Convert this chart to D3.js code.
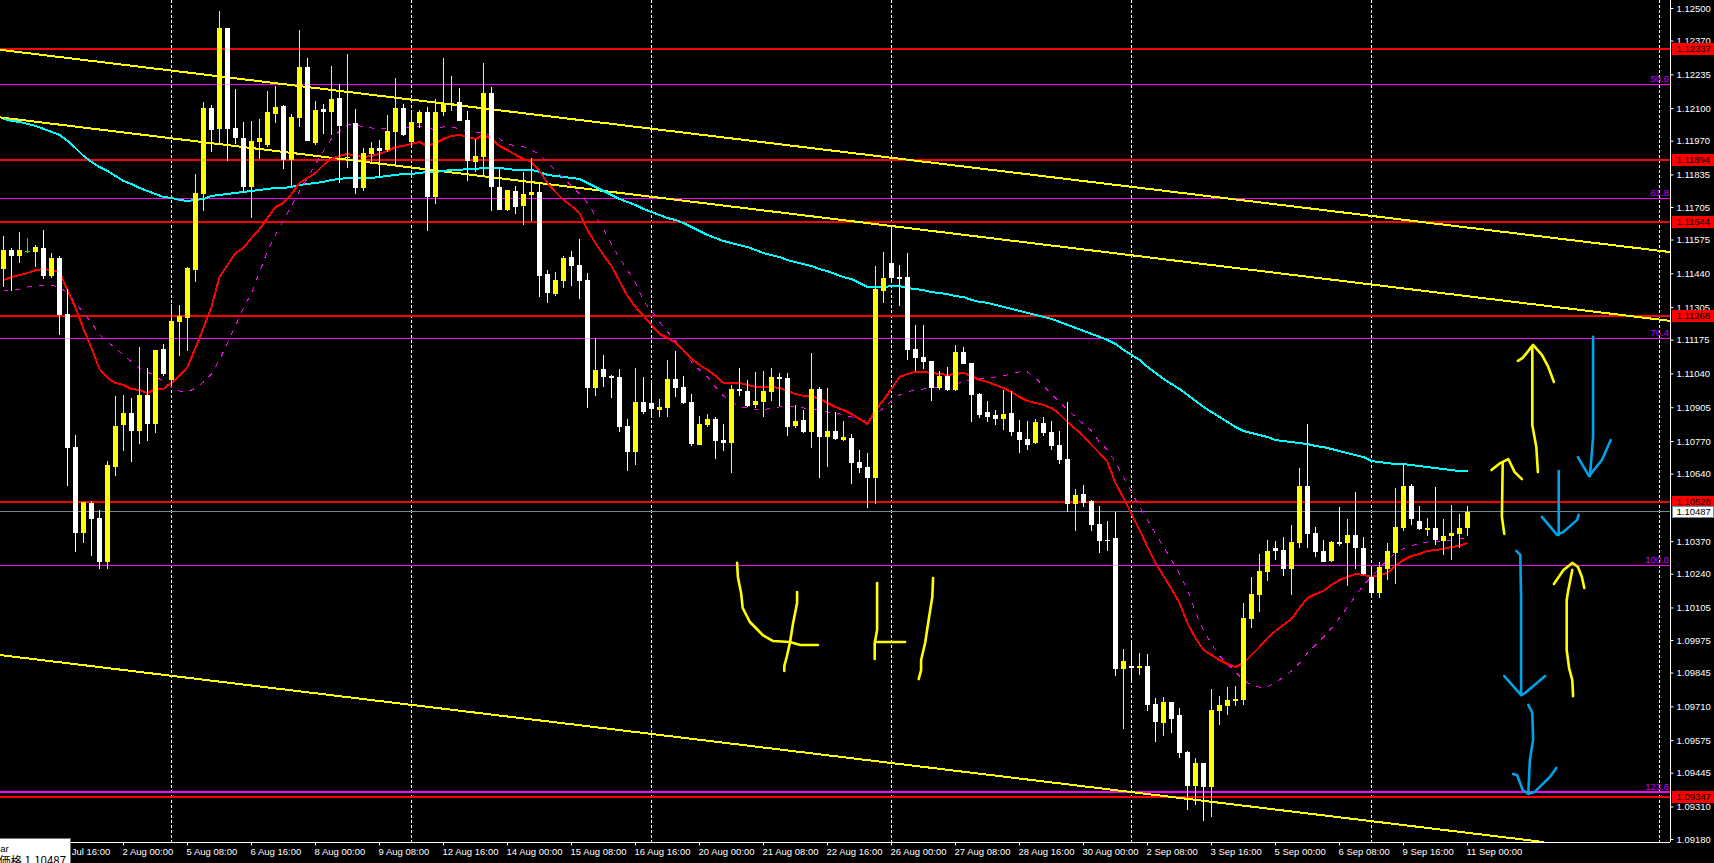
<!DOCTYPE html>
<html>
<head>
<meta charset="utf-8">
<title>EURUSD H4</title>
<script src="https://cdnjs.cloudflare.com/ajax/libs/d3/7.8.5/d3.min.js"></script>
<style>
  html, body { margin: 0; padding: 0; background: #000; overflow: hidden; }
  svg { display: block; }
  text { font-family: "Liberation Sans", Arial, sans-serif; font-size: 9.5px; }
</style>
</head>
<body>
<div id="chart"></div>
<script>
// 4H candles, one entry per bar
var opens = [
  1.11457,1.11533,1.11509,1.11529,1.11525,1.11541,1.11429,1.11501,1.11278,1.10746,1.10403,1.10523,1.10463,1.10287,1.10666,1.10834,
  1.10882,1.10810,1.10954,1.10838,1.11138,1.11014,1.11246,1.11262,1.11453,1.11757,1.12101,1.12017,1.12420,1.12021,1.11981,1.11785,
  1.11965,1.11953,1.12077,1.12109,1.11893,1.12061,1.12264,1.11961,1.12097,1.12085,1.12140,1.11901,1.12041,1.11781,1.11917,1.11941,
  1.11933,1.12005,1.12101,1.11965,1.12041,1.12085,1.11745,1.12085,1.12113,1.12125,1.12053,1.11885,1.11905,1.12160,1.11785,1.11693,
  1.11769,1.11709,1.11753,1.11765,1.11437,1.11357,1.11409,1.11505,1.11473,1.11413,1.10982,1.11058,1.11030,1.11026,1.10830,1.10726,
  1.10926,1.10922,1.10894,1.10902,1.11018,1.10986,1.10926,1.10754,1.10834,1.10858,1.10774,1.10762,1.10978,1.10970,1.10914,1.10926,
  1.10966,1.11026,1.11022,1.10830,1.10854,1.10806,1.10978,1.10786,1.10810,1.10774,1.10782,1.10686,1.10666,1.10622,1.11369,1.11481,
  1.11425,1.11425,1.11138,1.11106,1.11090,1.10982,1.11030,1.10974,1.11126,1.11082,1.10958,1.10886,1.10874,1.10858,1.10882,1.10806,
  1.10778,1.10762,1.10842,1.10806,1.10754,1.10698,1.10519,1.10558,1.10531,1.10439,1.10375,1.10383,1.09859,1.09871,1.09863,1.09871,
  1.09720,1.09644,1.09728,1.09676,1.09528,1.09392,1.09484,1.09388,1.09692,1.09712,1.09732,1.09736,1.10059,1.10155,1.10247,1.10343,
  1.10335,1.10259,1.10363,1.10590,1.10403,1.10331,1.10291,1.10367,1.10363,1.10395,1.10343,1.10227,1.10163,1.10259,1.10323,1.10423,
  1.10590,1.10451,1.10415,1.10423,1.10371,1.10391,1.10399,1.10423
];
var highs = [
  1.11589,1.11541,1.11605,1.11581,1.11553,1.11613,1.11521,1.11509,1.11377,1.10794,1.10527,1.10531,1.10495,1.10690,1.10950,1.10954,
  1.10942,1.11146,1.11062,1.11134,1.11158,1.11318,1.11314,1.11465,1.11837,1.12125,1.12113,1.12488,1.12420,1.12176,1.12045,1.12049,
  1.12057,1.12168,1.12188,1.12113,1.12077,1.12412,1.12300,1.12129,1.12117,1.12268,1.12196,1.12316,1.12097,1.11941,1.11965,1.11973,
  1.12073,1.12220,1.12117,1.12081,1.12093,1.12105,1.12136,1.12300,1.12228,1.12180,1.12089,1.11977,1.12280,1.12184,1.11857,1.11773,
  1.11789,1.11845,1.11901,1.11797,1.11453,1.11445,1.11509,1.11529,1.11577,1.11441,1.11182,1.11114,1.11034,1.11058,1.10858,1.11062,
  1.11026,1.11006,1.10938,1.11094,1.11130,1.11030,1.10958,1.10870,1.10878,1.10866,1.10838,1.10994,1.11062,1.11014,1.11046,1.11050,
  1.11062,1.11042,1.11042,1.10914,1.10894,1.11122,1.10986,1.10982,1.10886,1.10850,1.10798,1.10734,1.10722,1.11469,1.11525,1.11625,
  1.11473,1.11521,1.11234,1.11234,1.11090,1.11050,1.11066,1.11154,1.11146,1.11082,1.10962,1.10930,1.10894,1.10974,1.10970,1.10854,
  1.10850,1.10858,1.10866,1.10850,1.10810,1.10926,1.10578,1.10594,1.10535,1.10511,1.10451,1.10487,1.09939,1.09971,1.09923,1.09919,
  1.09743,1.09747,1.09728,1.09704,1.09532,1.09504,1.09484,1.09779,1.09752,1.09787,1.09791,1.10123,1.10227,1.10319,1.10375,1.10371,
  1.10387,1.10435,1.10662,1.10838,1.10427,1.10375,1.10371,1.10507,1.10459,1.10566,1.10387,1.10263,1.10287,1.10363,1.10582,1.10678,
  1.10598,1.10511,1.10463,1.10586,1.10459,1.10515,1.10479,1.10511
];
var lows = [
  1.11385,1.11369,1.11481,1.11521,1.11465,1.11417,1.11421,1.11194,1.10590,1.10327,1.10363,1.10311,1.10259,1.10259,1.10630,1.10730,
  1.10686,1.10758,1.10770,1.10802,1.11030,1.10990,1.11110,1.11130,1.11405,1.11689,1.11925,1.11961,1.11889,1.11957,1.11761,1.11661,
  1.11897,1.11945,1.12041,1.11857,1.11785,1.12025,1.11969,1.11953,1.11997,1.11993,1.11801,1.11861,1.11757,1.11769,1.11881,1.11821,
  1.11925,1.11869,1.11989,1.11953,1.12021,1.11609,1.11717,1.12069,1.12089,1.12049,1.11809,1.11845,1.11829,1.11689,1.11693,1.11689,
  1.11677,1.11633,1.11649,1.11345,1.11322,1.11349,1.11381,1.11389,1.11337,1.10902,1.10950,1.10986,1.10942,1.10806,1.10650,1.10674,
  1.10878,1.10866,1.10866,1.10866,1.10946,1.10918,1.10750,1.10754,1.10826,1.10698,1.10730,1.10642,1.10950,1.10906,1.10902,1.10866,
  1.10930,1.10910,1.10790,1.10822,1.10802,1.10742,1.10622,1.10666,1.10774,1.10770,1.10598,1.10642,1.10503,1.10519,1.11322,1.11401,
  1.11310,1.11094,1.11050,1.11058,1.10930,1.10974,1.10970,1.10970,1.11078,1.10846,1.10862,1.10846,1.10834,1.10814,1.10790,1.10722,
  1.10734,1.10758,1.10790,1.10734,1.10678,1.10487,1.10411,1.10507,1.10411,1.10323,1.10331,1.09831,1.09620,1.09811,1.09835,1.09692,
  1.09568,1.09592,1.09604,1.09504,1.09296,1.09316,1.09252,1.09268,1.09636,1.09676,1.09712,1.09716,1.10023,1.10087,1.10211,1.10295,
  1.10231,1.10155,1.10343,1.10343,1.10307,1.10287,1.10287,1.10351,1.10191,1.10259,1.10235,1.10143,1.10143,1.10215,1.10199,1.10411,
  1.10435,1.10415,1.10391,1.10355,1.10315,1.10295,1.10343,1.10391
];
var closes = [
  1.11533,1.11509,1.11533,1.11529,1.11545,1.11429,1.11501,1.11274,1.10742,1.10403,1.10527,1.10459,1.10287,1.10674,1.10830,1.10882,
  1.10810,1.10954,1.10838,1.11134,1.11038,1.11250,1.11270,1.11461,1.11761,1.12101,1.12013,1.12420,1.12017,1.11981,1.11785,1.11969,
  1.11981,1.12085,1.12105,1.11893,1.12065,1.12264,1.11969,1.12093,1.12085,1.12136,1.12029,1.11905,1.11781,1.11921,1.11941,1.11929,
  1.12009,1.12101,1.11993,1.12045,1.12085,1.11745,1.12085,1.12117,1.12121,1.12049,1.11889,1.11909,1.12160,1.11785,1.11693,1.11773,
  1.11705,1.11757,1.11765,1.11429,1.11361,1.11413,1.11501,1.11469,1.11409,1.10982,1.11054,1.11026,1.11022,1.10826,1.10726,1.10926,
  1.10886,1.10898,1.10906,1.11018,1.10982,1.10922,1.10758,1.10838,1.10858,1.10770,1.10762,1.10978,1.10970,1.10910,1.10930,1.10970,
  1.11026,1.11018,1.10826,1.10850,1.10806,1.10978,1.10786,1.10810,1.10778,1.10786,1.10682,1.10662,1.10622,1.11377,1.11421,1.11421,
  1.11417,1.11134,1.11102,1.11086,1.10982,1.11030,1.10974,1.11126,1.11078,1.10954,1.10874,1.10866,1.10858,1.10878,1.10806,1.10774,
  1.10754,1.10846,1.10802,1.10750,1.10694,1.10519,1.10554,1.10523,1.10435,1.10371,1.10371,1.09859,1.09891,1.09863,1.09871,1.09716,
  1.09648,1.09728,1.09660,1.09524,1.09392,1.09484,1.09388,1.09696,1.09716,1.09736,1.09739,1.10063,1.10159,1.10251,1.10331,1.10331,
  1.10259,1.10367,1.10590,1.10399,1.10327,1.10287,1.10367,1.10359,1.10395,1.10343,1.10239,1.10163,1.10267,1.10331,1.10427,1.10590,
  1.10459,1.10419,1.10423,1.10375,1.10391,1.10403,1.10423,1.10487
];

// moving averages, same bars
var maFast = [
  1.11413,1.11425,1.11433,1.11441,1.11453,1.11457,1.11453,1.11445,1.11373,1.11302,1.11218,1.11142,1.11058,1.11022,1.11002,1.10994,
  1.10978,1.10974,1.10962,1.10978,1.10978,1.11002,1.11030,1.11066,1.11142,1.11222,1.11306,1.11425,1.11473,1.11521,1.11541,1.11581,
  1.11617,1.11661,1.11705,1.11721,1.11757,1.11801,1.11821,1.11841,1.11873,1.11897,1.11909,1.11917,1.11909,1.11905,1.11909,1.11917,
  1.11929,1.11945,1.11949,1.11957,1.11965,1.11949,1.11961,1.11977,1.11989,1.11993,1.11985,1.11977,1.11993,1.11977,1.11949,1.11933,
  1.11913,1.11897,1.11885,1.11849,1.11801,1.11765,1.11733,1.11709,1.11681,1.11613,1.11561,1.11513,1.11469,1.11409,1.11349,1.11306,
  1.11270,1.11234,1.11198,1.11182,1.11162,1.11134,1.11098,1.11074,1.11054,1.11030,1.11002,1.11002,1.11002,1.10994,1.10986,1.10986,
  1.10986,1.10982,1.10970,1.10958,1.10950,1.10950,1.10938,1.10922,1.10906,1.10894,1.10878,1.10858,1.10838,1.10894,1.10934,1.10978,
  1.11026,1.11038,1.11046,1.11046,1.11042,1.11038,1.11034,1.11038,1.11042,1.11030,1.11014,1.11006,1.10994,1.10982,1.10966,1.10946,
  1.10930,1.10922,1.10914,1.10902,1.10878,1.10846,1.10818,1.10790,1.10754,1.10722,1.10686,1.10602,1.10542,1.10479,1.10415,1.10347,
  1.10283,1.10231,1.10179,1.10123,1.10043,1.09983,1.09935,1.09915,1.09895,1.09879,1.09867,1.09883,1.09915,1.09947,1.09983,1.10011,
  1.10035,1.10059,1.10103,1.10143,1.10159,1.10171,1.10195,1.10215,1.10227,1.10239,1.10235,1.10227,1.10235,1.10243,1.10271,1.10295,
  1.10311,1.10319,1.10331,1.10335,1.10339,1.10347,1.10351,1.10363
];
var maSlow = [
  1.11369,1.11373,1.11377,1.11385,1.11389,1.11393,1.11393,1.11385,1.11361,1.11322,1.11282,1.11242,1.11194,1.11166,1.11142,1.11114,
  1.11086,1.11062,1.11046,1.11030,1.11006,1.10986,1.10970,1.10966,1.10982,1.11006,1.11038,1.11094,1.11162,1.11230,1.11302,1.11361,
  1.11445,1.11529,1.11593,1.11653,1.11709,1.11769,1.11821,1.11877,1.11929,1.11977,1.12009,1.12033,1.12033,1.12025,1.12021,1.12017,
  1.12017,1.12021,1.12021,1.12025,1.12029,1.12021,1.12013,1.12025,1.12025,1.12017,1.12009,1.12005,1.12001,1.11989,1.11977,1.11957,
  1.11949,1.11945,1.11933,1.11913,1.11885,1.11849,1.11821,1.11789,1.11757,1.11721,1.11669,1.11617,1.11557,1.11501,1.11453,1.11401,
  1.11330,1.11290,1.11246,1.11206,1.11170,1.11130,1.11086,1.11054,1.11026,1.10986,1.10950,1.10926,1.10906,1.10902,1.10894,1.10894,
  1.10902,1.10906,1.10906,1.10906,1.10902,1.10898,1.10894,1.10886,1.10882,1.10874,1.10866,1.10858,1.10846,1.10874,1.10902,1.10930,
  1.10954,1.10966,1.10974,1.10978,1.10982,1.10982,1.10986,1.10998,1.11006,1.11014,1.11018,1.11022,1.11026,1.11030,1.11038,1.11046,
  1.11046,1.11022,1.10990,1.10958,1.10926,1.10894,1.10866,1.10838,1.10810,1.10766,1.10734,1.10686,1.10626,1.10566,1.10507,1.10455,
  1.10399,1.10347,1.10295,1.10239,1.10175,1.10087,1.10015,1.09959,1.09911,1.09879,1.09847,1.09815,1.09795,1.09787,1.09787,1.09807,
  1.09827,1.09851,1.09883,1.09923,1.09955,1.09987,1.10023,1.10063,1.10107,1.10151,1.10195,1.10227,1.10263,1.10295,1.10323,1.10339,
  1.10351,1.10363,1.10367,1.10367,1.10371,1.10375,1.10379,1.10383
];
var maLong = [
  1.12057,1.12049,1.12045,1.12037,1.12029,1.12017,1.12005,1.11993,1.11969,1.11941,1.11909,1.11885,1.11865,1.11849,1.11829,1.11809,
  1.11797,1.11781,1.11769,1.11757,1.11745,1.11741,1.11733,1.11729,1.11733,1.11737,1.11749,1.11753,1.11757,1.11761,1.11765,1.11769,
  1.11773,1.11777,1.11781,1.11781,1.11785,1.11793,1.11797,1.11801,1.11805,1.11813,1.11817,1.11821,1.11821,1.11821,1.11821,1.11825,
  1.11829,1.11833,1.11837,1.11837,1.11841,1.11845,1.11845,1.11849,1.11853,1.11853,1.11857,1.11857,1.11861,1.11861,1.11861,1.11857,
  1.11853,1.11853,1.11853,1.11845,1.11833,1.11829,1.11825,1.11821,1.11817,1.11801,1.11785,1.11769,1.11753,1.11737,1.11725,1.11713,
  1.11697,1.11685,1.11673,1.11661,1.11653,1.11641,1.11625,1.11609,1.11593,1.11581,1.11569,1.11561,1.11553,1.11545,1.11533,1.11521,
  1.11513,1.11505,1.11493,1.11485,1.11477,1.11469,1.11457,1.11449,1.11437,1.11425,1.11417,1.11401,1.11385,1.11385,1.11385,1.11389,
  1.11389,1.11381,1.11377,1.11373,1.11365,1.11361,1.11357,1.11349,1.11345,1.11334,1.11326,1.11322,1.11314,1.11306,1.11298,1.11290,
  1.11282,1.11274,1.11266,1.11258,1.11246,1.11234,1.11222,1.11210,1.11198,1.11186,1.11174,1.11158,1.11134,1.11114,1.11094,1.11066,
  1.11042,1.11018,1.10998,1.10978,1.10954,1.10930,1.10906,1.10886,1.10866,1.10846,1.10826,1.10810,1.10802,1.10794,1.10786,1.10774,
  1.10770,1.10766,1.10762,1.10758,1.10750,1.10746,1.10738,1.10730,1.10722,1.10714,1.10706,1.10690,1.10686,1.10682,1.10678,1.10678,
  1.10674,1.10670,1.10666,1.10662,1.10658,1.10654,1.10650,1.10650
];

// axis labels
var priceTicks = [1.125,1.1237,1.12235,1.121,1.1197,1.11835,1.11705,1.11575,1.1144,1.11305,1.11175,1.1104,1.10905,1.1077,1.1064,1.1037,1.1024,1.10105,1.09975,1.09845,1.0971,1.09575,1.09445,1.0931,1.0918];
var timeBars = [7,15,23,31,39,47,55,63,71,79,87,95,103,111,119,127,135,143,151,159,167,175,183];
var timeLabels = ['31 Jul 16:00','2 Aug 00:00','5 Aug 08:00','6 Aug 16:00','8 Aug 00:00','9 Aug 08:00','12 Aug 16:00','14 Aug 00:00','15 Aug 08:00','16 Aug 16:00','20 Aug 00:00','21 Aug 08:00','22 Aug 16:00','26 Aug 00:00','27 Aug 08:00','28 Aug 16:00','30 Aug 00:00','2 Sep 08:00','3 Sep 16:00','5 Sep 00:00','6 Sep 08:00','9 Sep 16:00','11 Sep 00:00'];
var gridBars = [21,51,81,111,141,171,207];

// horizontal levels
var redLevels = [1.12337,1.11894,1.11644,1.11268,1.10528,1.09347];
var fibLevels = [1.12195,1.1174,1.1118,1.10273];
var fibLabels = ['50.0','61.8','76.4','100.0'];
var fibLast = 1.09366;
var fibLastLabel = '123.6';
var lastPrice = 1.10487;

// channel lines, [bar, price]
var channelA = [[-0.44,1.12333],[208.31,1.11525]];
var channelB = [[-0.44,1.12063],[208.31,1.1125]];
var channelC = [[-0.44,1.09915],[192.5,1.09168]];

// hand drawn strokes, [bar, price]
var yellowStrokes = [
  [[91.7,1.10283],[91.8,1.10227],[92.2,1.10163],[92.4,1.10103],[93.3,1.10047],[94.9,1.09995],[96.2,1.09971],[98.3,1.09967],[99.6,1.09955],[101.8,1.09955]],
  [[99.2,1.10167],[99.2,1.10123],[98.7,1.10043],[98.3,1.09963],[97.9,1.09907],[97.6,1.09871],[97.6,1.09851]],
  [[109.2,1.10203],[109.2,1.10015],[108.9,1.09963],[108.9,1.09899]],
  [[109.1,1.09967],[112.7,1.09967]],
  [[116.2,1.10223],[116.1,1.10147],[115.7,1.10067],[115.2,1.09963],[114.7,1.09895],[114.7,1.09855],[114.4,1.09819]],
  [[191.8,1.10646],[191.6,1.10746],[191.1,1.10834],[191.1,1.11146]],
  [[189.3,1.1109],[189.9,1.11102],[191.2,1.11154],[192.3,1.11114],[193.1,1.11066],[193.8,1.11006]],
  [[187.6,1.10399],[187.3,1.10467],[187.4,1.10682]],
  [[186,1.10654],[187.1,1.10682],[188.1,1.10698],[188.9,1.10646],[189.8,1.10618]],
  [[196.2,1.09751],[196.1,1.09815],[195.7,1.09863],[195.4,1.09935],[195.4,1.10135],[195.6,1.10175],[196.1,1.10255]],
  [[193.8,1.10199],[195,1.10255],[196.1,1.10283],[196.8,1.10267],[197.3,1.10227],[197.6,1.10183]]
];
var blueStrokes = [
  [[198.7,1.11186],[198.7,1.10786],[198.3,1.1063]],
  [[196.8,1.10706],[198.2,1.1063],[199.8,1.10694],[200.9,1.10774]],
  [[194.4,1.1065],[194.4,1.10395]],
  [[192.3,1.10467],[194.2,1.10395],[195,1.10407],[196.7,1.10455],[196.9,1.10475]],
  [[189.1,1.10331],[189.6,1.10315],[189.7,1.10135],[189.7,1.09755]],
  [[187.6,1.09831],[189.7,1.09755],[190.2,1.09763],[192.7,1.09831]],
  [[190.6,1.09716],[191.1,1.09684],[191.2,1.09576],[190.8,1.09496],[190.6,1.09364]],
  [[188.7,1.0944],[189.2,1.09436],[189.9,1.09376],[190.6,1.0936],[191.4,1.09368],[193.3,1.09428],[194.1,1.09464]]
];

var svgWidth = 1714;
var svgHeight = 863;
var plotRight = 1670;
var plotBottom = 842;

var svg = d3.select('#chart')
  .append('svg')
  .attr('width', svgWidth)
  .attr('height', svgHeight)
  .style('background', '#000');

var defs = svg.append('defs');
defs.append('clipPath').attr('id', 'plot')
  .append('rect')
  .attr('width', plotRight)
  .attr('height', plotBottom);

var xScale = d3.scaleLinear().domain([0, 207]).range([3.5, 1659.5]);
var yScale = d3.scaleLinear().domain([1.0918, 1.125]).range([839, 8]);

var plot = svg.append('g').attr('clip-path', 'url(#plot)');

// vertical grid
plot.append('g').selectAll('line')
  .data(gridBars)
  .enter()
  .append('line')
  .attr('x1', d => xScale(d))
  .attr('x2', d => xScale(d))
  .attr('y1', 0)
  .attr('y2', plotBottom)
  .attr('stroke', '#fff')
  .attr('stroke-dasharray', '3,2');

function hLines(levels, color, width) {
  plot.append('g').selectAll('line')
    .data(levels)
    .enter()
    .append('line')
    .attr('x1', 0)
    .attr('x2', plotRight)
    .attr('y1', d => yScale(d))
    .attr('y2', d => yScale(d))
    .attr('stroke', color)
    .attr('stroke-width', width)
    .attr('shape-rendering', 'crispEdges');
}

hLines([lastPrice], '#778899', 1);
hLines(fibLevels, '#ff00ff', 1);
hLines([fibLast], '#ff00ff', 2);
hLines(redLevels, '#ff0000', 2);

plot.append('g').selectAll('text')
  .data(fibLevels.concat([fibLast]))
  .enter()
  .append('text')
  .attr('x', 1669)
  .attr('y', d => yScale(d) - 2)
  .attr('text-anchor', 'end')
  .attr('fill', '#c800ff')
  .text((d, i) => i < fibLabels.length ? fibLabels[i] : fibLastLabel);

var pointLine = d3.line().x(d => xScale(d[0])).y(d => yScale(d[1]));

// trend channel
[channelA, channelB, channelC].forEach(function(pts) {
  plot.append('path')
    .attr('d', pointLine(pts))
    .attr('fill', 'none')
    .attr('stroke', '#ffff00')
    .attr('stroke-width', 2)
    .attr('shape-rendering', 'crispEdges');
});

// moving averages
var maLine = d3.line().x((d, i) => xScale(i)).y(d => yScale(d));

plot.append('path')
  .attr('d', maLine(maLong))
  .attr('fill', 'none')
  .attr('stroke', '#00ffff')
  .attr('stroke-width', 2)
  .attr('shape-rendering', 'crispEdges');

plot.append('path')
  .attr('d', maLine(maSlow))
  .attr('fill', 'none')
  .attr('stroke', '#ff00ff')
  .attr('stroke-width', 1)
  .attr('stroke-dasharray', '5,7')
  .attr('shape-rendering', 'crispEdges');

plot.append('path')
  .attr('d', maLine(maFast))
  .attr('fill', 'none')
  .attr('stroke', '#ff0000')
  .attr('stroke-width', 2)
  .attr('shape-rendering', 'crispEdges');

// candles sit on top of the indicators
function candleColor(i) {
  if (closes[i] > opens[i]) return '#ffff00';
  if (closes[i] < opens[i]) return '#ffffff';
  return '#00ff00';
}

var candles = plot.append('g').attr('shape-rendering', 'crispEdges')
  .selectAll('g')
  .data(opens)
  .enter()
  .append('g');

candles.append('line')
  .attr('x1', (d, i) => xScale(i))
  .attr('x2', (d, i) => xScale(i))
  .attr('y1', (d, i) => yScale(highs[i]))
  .attr('y2', (d, i) => yScale(lows[i]))
  .attr('stroke', (d, i) => candleColor(i));

candles.append('rect')
  .attr('x', (d, i) => xScale(i) - 2.5)
  .attr('width', 5)
  .attr('y', (d, i) => yScale(Math.max(opens[i], closes[i])))
  .attr('height', (d, i) => Math.max(1, yScale(Math.min(opens[i], closes[i])) - yScale(Math.max(opens[i], closes[i]))))
  .attr('fill', (d, i) => candleColor(i));

// axes
var yAxis = d3.axisRight(yScale)
  .tickValues(priceTicks)
  .tickFormat(d3.format('.5f'))
  .tickSize(3)
  .tickPadding(3)
  .offset(0.5);

var yGroup = svg.append('g')
  .attr('transform', `translate(${plotRight + 0.5}, 0)`)
  .call(yAxis);

var xAxis = d3.axisBottom(xScale)
  .tickValues(timeBars)
  .tickFormat((d, i) => timeLabels[i])
  .tickSize(3)
  .tickPadding(3)
  .offset(0);

var xGroup = svg.append('g')
  .attr('transform', `translate(0, ${plotBottom + 0.5})`)
  .call(xAxis);

[yGroup, xGroup].forEach(function(g) {
  g.attr('font-family', null).attr('font-size', null);
  g.selectAll('text').attr('fill', '#fff');
  g.selectAll('line').attr('stroke', '#fff');
  g.select('.domain').attr('stroke', '#fff');
});

xGroup.select('.domain').attr('d', `M0,0H${plotRight}`);
yGroup.select('.domain').attr('d', `M0,0V${plotBottom}`);
xGroup.selectAll('text')
  .attr('text-anchor', 'start')
  .attr('dx', '-1');

// price tags on the right scale
function priceTag(price, fill, edge) {
  var tag = svg.append('g')
    .attr('transform', `translate(1672, ${Math.round(yScale(price)) - 6})`);
  tag.append('rect')
    .attr('width', 41.5)
    .attr('height', 11)
    .attr('fill', fill)
    .attr('stroke', edge)
    .attr('shape-rendering', 'crispEdges');
  tag.append('text')
    .attr('x', 4.5)
    .attr('y', 9)
    .attr('fill', '#000')
    .text(d3.format('.5f')(price));
}

redLevels.forEach(function(level) {
  priceTag(level, '#ff0000', '#ff0000');
});
priceTag(lastPrice, '#ffffff', '#778899');

// freehand marks
var strokeLine = d3.line()
  .x(d => xScale(d[0]))
  .y(d => yScale(d[1]))
  .curve(d3.curveLinear);

function drawStrokes(list, color) {
  svg.append('g').selectAll('path')
    .data(list)
    .enter()
    .append('path')
    .attr('d', strokeLine)
    .attr('fill', 'none')
    .attr('stroke', color)
    .attr('stroke-width', 2.6)
    .attr('stroke-linecap', 'round')
    .attr('stroke-linejoin', 'round');
}

drawStrokes(yellowStrokes, '#ffff00');
drawStrokes(blueStrokes, '#00a2e8');

// tooltip cut off by the window corner
var tip = svg.append('g');
tip.append('rect')
  .attr('x', -2)
  .attr('y', 838.5)
  .attr('width', 72)
  .attr('height', 30)
  .attr('fill', '#fff')
  .attr('stroke', '#777')
  .attr('shape-rendering', 'crispEdges');
tip.append('text')
  .attr('x', -6)
  .attr('y', 852)
  .attr('fill', '#000')
  .text('Bar');
tip.append('text')
  .attr('x', -1)
  .attr('y', 865)
  .attr('fill', '#000')
  .style('font-family', '"Noto Sans CJK JP", "Liberation Sans"')
  .style('font-size', '11.5px')
  .text('価格 1.10487');
</script>
</body>
</html>
